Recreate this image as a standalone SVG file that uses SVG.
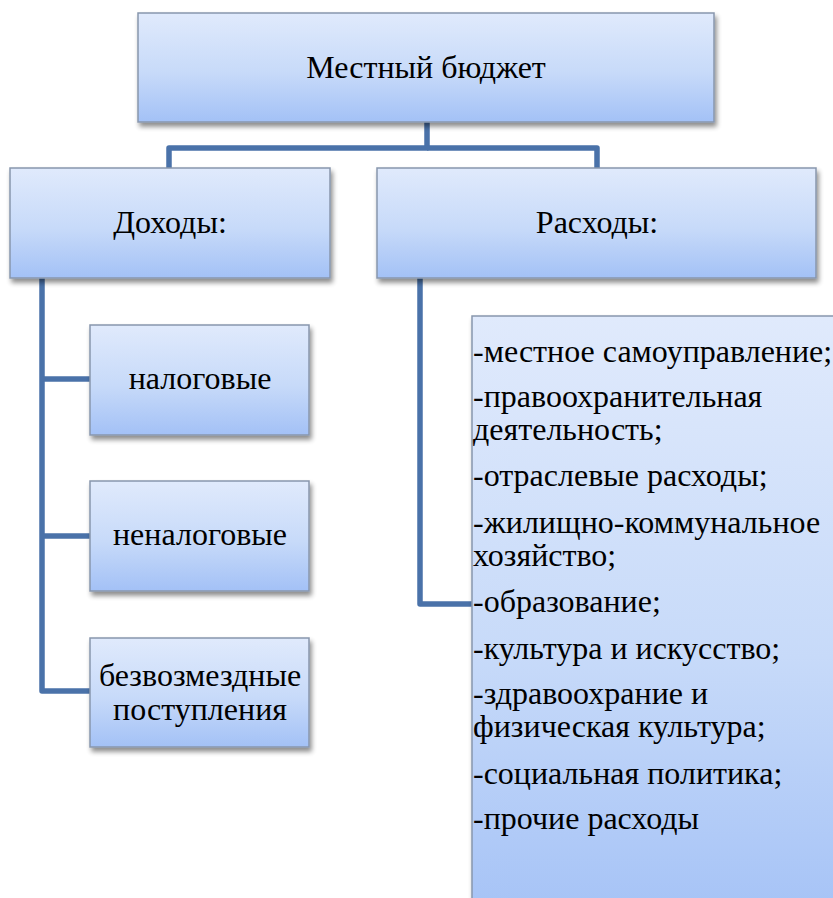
<svg xmlns="http://www.w3.org/2000/svg" width="833" height="898" viewBox="0 0 833 898">
<defs>
<linearGradient id="g" x1="0" y1="0" x2="0" y2="1">
<stop offset="0" stop-color="#e0eafc"/>
<stop offset="0.55" stop-color="#c7daf9"/>
<stop offset="1" stop-color="#a3c1f6"/>
</linearGradient>
<filter id="sh" x="-10%" y="-10%" width="125%" height="130%">
<feGaussianBlur in="SourceAlpha" stdDeviation="2.5"/>
<feOffset dx="2" dy="4" result="b"/>
<feComponentTransfer><feFuncA type="linear" slope="0.45"/></feComponentTransfer>
<feMerge><feMergeNode/><feMergeNode in="SourceGraphic"/></feMerge>
</filter>
</defs>
<style>
.box{fill:url(#g);stroke:#8896ad;stroke-width:1.5;filter:url(#sh)}
.c{fill:none;stroke:#4a72a9;stroke-width:5.5;stroke-linejoin:round;stroke-linecap:butt}
</style>
<g id="connectors">
<path class="c" d="M427 122 V148 H169 V168"/>
<path class="c" d="M427 148 H597 V168"/>
<path class="c" d="M42 278 V691 H90"/>
<path class="c" d="M42 379 H90"/>
<path class="c" d="M42 536 H90"/>
<path class="c" d="M420 278 V604 H473"/>
</g>
<g id="n-budget">
<rect class="box" x="138" y="13" width="576" height="109"/>
<text x="426" y="78" font-family="Liberation Serif" font-size="32" text-anchor="middle">Местный бюджет</text>
</g>
<g id="n-income">
<rect class="box" x="10" y="168" width="320" height="110"/>
<text x="170" y="233" font-family="Liberation Serif" font-size="32" text-anchor="middle">Доходы:</text>
</g>
<g id="n-expense">
<rect class="box" x="377" y="168" width="439" height="110"/>
<text x="597" y="233" font-family="Liberation Serif" font-size="32" text-anchor="middle">Расходы:</text>
</g>
<g id="n-tax">
<rect class="box" x="90" y="325" width="219" height="110"/>
<text x="200" y="389" font-family="Liberation Serif" font-size="32" text-anchor="middle">налоговые</text>
</g>
<g id="n-nontax">
<rect class="box" x="90" y="481" width="219" height="110"/>
<text x="200" y="545" font-family="Liberation Serif" font-size="32" text-anchor="middle">неналоговые</text>
</g>
<g id="n-free">
<rect class="box" x="90" y="638" width="219" height="109"/>
<text x="200" y="686" font-family="Liberation Serif" font-size="32" text-anchor="middle">безвозмездные</text>
<text x="200" y="720" font-family="Liberation Serif" font-size="32" text-anchor="middle">поступления</text>
</g>
<g id="n-list" font-family="Liberation Serif" font-size="32">
<rect class="box" x="472" y="316" width="420" height="620"/>
<text x="473" y="362" font-family="Liberation Serif">-местное самоуправление;</text>
<text x="473" y="407" font-family="Liberation Serif">-правоохранительная</text>
<text x="473" y="440" font-family="Liberation Serif">деятельность;</text>
<text x="473" y="486" font-family="Liberation Serif">-отраслевые расходы;</text>
<text x="473" y="533" font-family="Liberation Serif">-жилищно-коммунальное</text>
<text x="473" y="566" font-family="Liberation Serif">хозяйство;</text>
<text x="473" y="612" font-family="Liberation Serif">-образование;</text>
<text x="473" y="659" font-family="Liberation Serif">-культура и искусство;</text>
<text x="473" y="704" font-family="Liberation Serif">-здравоохрание и</text>
<text x="473" y="737" font-family="Liberation Serif">физическая культура;</text>
<text x="473" y="784" font-family="Liberation Serif">-социальная политика;</text>
<text x="473" y="829" font-family="Liberation Serif">-прочие расходы</text>
</g>
</svg>
